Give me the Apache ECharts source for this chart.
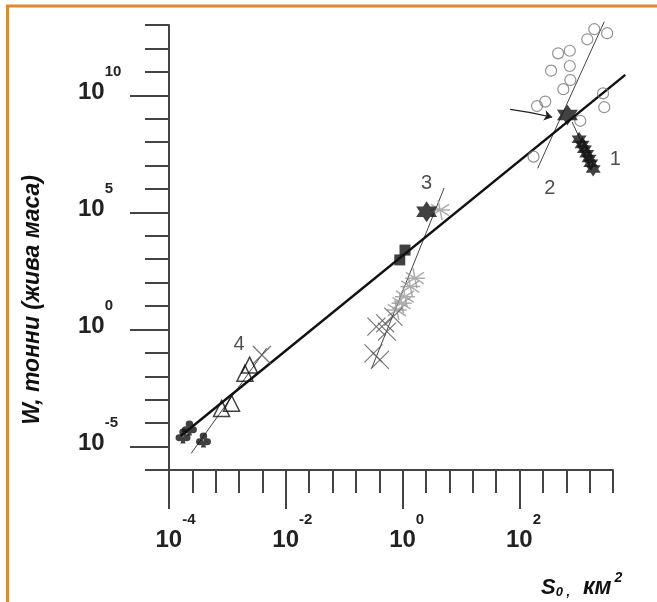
<!DOCTYPE html>
<html><head><meta charset="utf-8">
<script src="https://cdn.jsdelivr.net/npm/echarts@6/dist/echarts.min.js"></script>
<style>html,body{margin:0;padding:0;background:#fff}#c{width:657px;height:602px}</style>
</head><body><div id="c"></div>
<script>
// All points are [log10 S0 (km^2), log10 W (t)]
const xRangeExp = [-4, 3.6];
const yRangeExp = [-6, 13];
const xTickExps = [-4, -2, 0, 2];
const yTickExps = [-5, 0, 5, 10];
const xTickLabels = ['-4', '-2', '0', '2'];
const yTickLabels = ['-5', '0', '5', '10'];

const lineMain = [[-3.80, -4.55], [3.81, 10.87]];
const line1 = [[2.90, 8.86], [3.06, 8.00]];
const line2 = [[3.45, 13.14], [2.31, 6.88]];
const line3 = [[0.71, 6.04], [-0.53, -1.65]];
const line4 = [[-2.33, -0.80], [-3.62, -5.29]];

const circles = [[3.28, 12.82], [3.50, 12.65], [3.16, 12.39], [2.66, 11.79], [2.86, 11.90],
  [2.54, 11.05], [2.86, 11.25], [2.87, 10.65], [2.75, 10.26], [2.30, 9.54], [2.44, 9.73],
  [3.43, 10.08], [3.45, 9.49], [3.04, 8.91], [2.24, 7.38]];
const bigStars = [[2.82, 9.16], [0.41, 5.03]];
const stars1 = [[3.02, 8.12], [3.07, 7.90], [3.11, 7.70], [3.15, 7.50], [3.19, 7.30], [3.22, 7.10], [3.26, 6.85]];
const squares = [[0.04, 3.39], [-0.05, 2.97]];
const asterisks = [[0.64, 5.10], [0.21, 2.19], [0.13, 1.83], [0.04, 1.40], [-0.02, 1.12], [-0.10, 0.83]];
const crosses = [[-0.16, 0.55], [-0.30, 0.26], [-0.45, 0.12], [-0.27, -0.09], [-0.50, -1.02], [-0.39, -1.30], [-2.41, -1.09]];
const triangles = [[-2.62, -1.52], [-2.70, -1.87], [-2.93, -3.15], [-3.10, -3.37]];
const clubs = [[-3.76, -4.55], [-3.65, -4.21], [-3.41, -4.72]];
const arrow = [[1.84, 9.40], [2.56, 9.06]];
const groupLabels = [['1', 3.64, 7.24], ['2', 2.52, 6.04], ['3', 0.41, 6.24], ['4', -2.80, -0.62]];

const p10 = e => Number(Math.pow(10, e).toPrecision(12));
const P = arr => arr.map(([x, y]) => [p10(x), p10(y)]);

const FONT = '"Liberation Sans", Arial, sans-serif';
const starPath = 'path://M0,-10L2.9,-5.02L8.66,-5L5.8,0L8.66,5L2.9,5.02L0,10L-2.9,5.02L-8.66,5L-5.8,0L-8.66,-5L-2.9,-5.02Z';
const asteriskPath = 'path://M-10,0L10,0M-9,-4L9,4M-9,4L9,-4M-2,-7L2,7';
const crossPath = 'path://M-10,-10L10,10M-10,10L10,-10';
const clubPath = 'path://M-3,-3A3,3 0 1,1 3,-3A3,3 0 1,1 -3,-3ZM-6,2A3,3 0 1,1 0,2A3,3 0 1,1 -6,2ZM0,2A3,3 0 1,1 6,2A3,3 0 1,1 0,2ZM-1,2L1,2L2,7L-2,7Z';

// tick positions
const xShort = []; for (let k = 0; k <= 19; k++) xShort.push(p10(xRangeExp[0] + 0.4 * k));
const yShort = []; for (let e = yRangeExp[0]; e <= yRangeExp[1]; e++) yShort.push(p10(e));
const xLong = xTickExps.map(p10);
const yLong = yTickExps.map(p10);

const AX = '#444';
const richCommon = {
  b: { fontSize: 24, fontWeight: 'bold', fontFamily: FONT, color: '#222', lineHeight: 24, verticalAlign: 'bottom' },
  bn: { fontSize: 24, fontWeight: 'bold', fontFamily: FONT, color: '#222', lineHeight: 24, verticalAlign: 'bottom', padding: [0, 0, 0, 13] },
  bp: { fontSize: 24, fontWeight: 'bold', fontFamily: FONT, color: '#222', lineHeight: 24, verticalAlign: 'bottom', padding: [0, 0, 0, 8] },
  s: { fontSize: 15, fontWeight: 'bold', fontFamily: FONT, color: '#222', lineHeight: 15, verticalAlign: 'bottom', padding: [0, 0, 25, 0] }
};
const expOf = v => Math.round(Math.log10(v));

const baseX = { type: 'log', logBase: 10, min: p10(xRangeExp[0]), max: p10(xRangeExp[1]), splitLine: { show: false }, position: 'bottom' };
const baseY = { type: 'log', logBase: 10, min: p10(yRangeExp[0]), max: p10(yRangeExp[1]), splitLine: { show: false }, position: 'left' };

const option = {
  animation: false,
  backgroundColor: '#fff',
  grid: { left: 169, right: 44, top: 25, bottom: 132, containLabel: false },
  xAxis: [
    Object.assign({}, baseX, {
      axisLine: { show: true, lineStyle: { color: AX, width: 2 } },
      axisTick: { show: true, customValues: xShort, length: 23, lineStyle: { color: AX, width: 2 } },
      axisLabel: { show: false }
    }),
    Object.assign({}, baseX, {
      axisLine: { show: false },
      axisTick: { show: true, customValues: xLong, length: 39, lineStyle: { color: AX, width: 2 } },
      axisLabel: {
        show: true, customValues: xLong, margin: 58, align: 'center', verticalAlign: 'top',
        formatter: v => { const i = xTickExps.indexOf(expOf(v)); const e = xTickLabels[i]; return '{' + (e[0] === '-' ? 'bn' : 'bp') + '|10}{s|' + e + '}'; },
        rich: richCommon
      }
    })
  ],
  yAxis: [
    Object.assign({}, baseY, {
      axisLine: { show: true, lineStyle: { color: AX, width: 2 } },
      axisTick: { show: true, customValues: yShort, length: 24, lineStyle: { color: AX, width: 2 } },
      axisLabel: { show: false }
    }),
    Object.assign({}, baseY, {
      axisLine: { show: false },
      axisTick: { show: true, customValues: yLong, length: 39, lineStyle: { color: AX, width: 2 } },
      axisLabel: {
        show: true, customValues: yLong, margin: 91, align: 'left', verticalAlign: 'middle', padding: [0, 0, 6, 0],
        formatter: v => { const i = yTickExps.indexOf(expOf(v)); return '{b|10}{s|' + yTickLabels[i] + '}'; },
        rich: richCommon
      }
    })
  ],
  graphic: [
    { type: 'polyline', silent: true, z: 100, shape: { points: [[7.5, 602], [7.5, 6], [657, 6]] }, style: { stroke: '#DE8A2E', lineWidth: 3, fill: null } },
    { type: 'text', x: 33, y: 300, rotation: Math.PI / 2, style: { text: 'W, тонни (жива маса)', font: 'italic bold 23px ' + FONT, fill: '#111', align: 'center', verticalAlign: 'middle' } },
    { type: 'text', x: 541, y: 599, style: {
        text: '{S|S}{sub|0 ,}{t|  км}{sup|2}', align: 'left', verticalAlign: 'bottom',
        rich: {
          S: { fontSize: 22, fontStyle: 'italic', fontWeight: 'bold', fontFamily: FONT, fill: '#111', lineHeight: 22, verticalAlign: 'bottom' },
          sub: { fontSize: 13, fontStyle: 'italic', fontWeight: 'bold', fontFamily: FONT, fill: '#111', lineHeight: 13, verticalAlign: 'bottom' },
          t: { fontSize: 23, fontStyle: 'italic', fontWeight: 'bold', fontFamily: FONT, fill: '#111', lineHeight: 23, verticalAlign: 'bottom' },
          sup: { fontSize: 14, fontStyle: 'italic', fontWeight: 'bold', fontFamily: FONT, fill: '#111', lineHeight: 14, verticalAlign: 'bottom', padding: [0, 0, 14, 3] }
        } } }
  ],
  series: [
    { type: 'lines', coordinateSystem: 'cartesian2d', clip: false, data: [{ coords: P(lineMain) }], symbol: 'none', lineStyle: { color: '#111', width: 2.5, opacity: 1 }, z: 5 },
    { type: 'lines', coordinateSystem: 'cartesian2d', clip: false, data: [line1, line2, line3, line4].map(l => ({ coords: P(l) })), symbol: 'none', lineStyle: { color: '#444', width: 1, opacity: 1 }, z: 4 },
    { type: 'scatter', data: P(circles), symbol: 'circle', symbolSize: 11, clip: false, itemStyle: { color: 'rgba(0,0,0,0)', borderColor: '#777', borderWidth: 1.2 }, z: 6 },
    { type: 'scatter', data: P(bigStars), symbol: starPath, symbolSize: 21, itemStyle: { color: '#111' }, z: 7 },
    { type: 'scatter', data: P(stars1), symbol: starPath, symbolSize: 15, itemStyle: { color: '#111' }, z: 7 },
    { type: 'scatter', data: P(squares), symbol: 'rect', symbolSize: 11, itemStyle: { color: '#111' }, z: 7 },
    { type: 'scatter', data: P(asterisks), symbol: asteriskPath, symbolSize: 20, itemStyle: { color: 'rgba(0,0,0,0)', borderColor: '#999', borderWidth: 1.5 }, z: 6 },
    { type: 'scatter', data: P(crosses), symbol: crossPath, symbolSize: 18, itemStyle: { color: 'rgba(0,0,0,0)', borderColor: '#555', borderWidth: 1.2 }, z: 6 },
    { type: 'scatter', data: P(triangles), symbol: 'triangle', symbolSize: 16, itemStyle: { color: 'rgba(0,0,0,0)', borderColor: '#111', borderWidth: 1.5 }, z: 6 },
    { type: 'scatter', data: P(clubs), symbol: clubPath, symbolSize: 15, itemStyle: { color: '#111' }, z: 7 },
    { type: 'lines', coordinateSystem: 'cartesian2d', data: [{ coords: P(arrow) }], symbol: ['none', 'arrow'], symbolSize: 8, lineStyle: { color: '#222', width: 1.2, curveness: 0.03, opacity: 1 }, z: 8 },
    { type: 'scatter', data: groupLabels.map(([t, x, y]) => ({ value: [p10(x), p10(y)], name: t })), symbolSize: 0, clip: false,
      label: { show: true, position: 'inside', formatter: p => p.name, fontSize: 20, fontFamily: FONT, color: '#222' }, z: 9 }
  ]
};
const chart = echarts.init(document.getElementById('c'), null, { renderer: 'canvas' });
chart.setOption(option);
</script></body></html>
